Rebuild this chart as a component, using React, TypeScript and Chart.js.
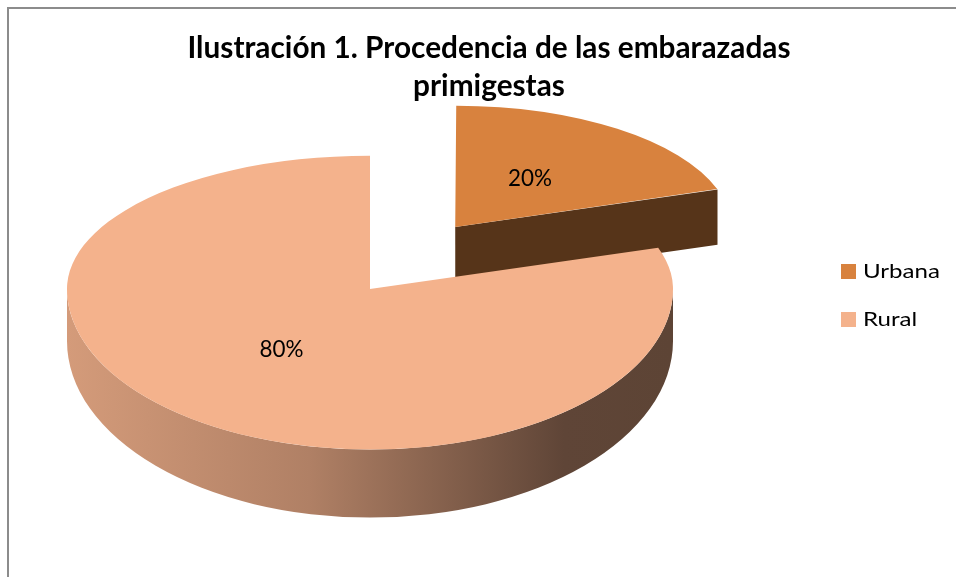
import { useEffect, useRef } from "react";
import { Chart, registerables } from "chart.js";

Chart.register(...registerables);

// ---- data ----
const TITLE_LINES = ["Ilustración 1. Procedencia de las embarazadas", "primigestas"];
const CATEGORIES = ["Urbana", "Rural"];
const VALUES = [20, 80];
const COLORS = ["#d8823e", "#f4b28c"];

// ---- 3D (perspective-ish) look ----
const CY = 297; // centre of the chart area in chart coordinates
const VY0 = 289; // screen y of the main pie centre
const KT = 0.44; // vertical squash for the far half
const KB = 0.53; // vertical squash for the near half
const D0 = 52; // wall depth at the sides
const DX = 16; // extra wall depth at the front
const DF = 62; // depth of the radial cut faces

function rgb(hex: string) {
  const n = parseInt(hex.slice(1), 16);
  return [(n >> 16) & 255, (n >> 8) & 255, n & 255];
}
function shade(hex: string, f: number) {
  const [r, g, b] = rgb(hex);
  return `rgb(${Math.round(r * f)},${Math.round(g * f)},${Math.round(b * f)})`;
}

function info(el: any) {
  const off = (el.options.offset || 0) / 4;
  const mid = (el.startAngle + el.endAngle) / 2;
  const circ = el.endAngle - el.startAngle;
  const fix = 1 - Math.sin(Math.min(Math.PI, circ || 0));
  const ex = el.x + Math.cos(mid) * off;
  const ey = el.y + Math.sin(mid) * off;
  const vy = Math.round(VY0 + 0.53 * (ey - CY));
  const f = 1 + (vy - VY0) / 560;
  return { ex, ey, vx: ex, vy, f, r: el.outerRadius + off * fix, s: el.startAngle, e: el.endAngle, mid };
}

// project a point at angle a and radius rr of an element onto the screen
function proj(g: any, a: number, rr: number) {
  const s = Math.sin(a);
  return [g.vx + g.f * rr * Math.cos(a), g.vy + g.f * rr * s * (s < 0 ? KT : KB)];
}

function fitText(ctx: CanvasRenderingContext2D, text: string, x: number, y: number, sx: number, align: string) {
  const w = ctx.measureText(text).width * sx;
  const left = align === "center" ? x - w / 2 : x;
  ctx.save();
  ctx.translate(left, y);
  ctx.scale(sx, 1);
  ctx.textAlign = "left";
  ctx.textBaseline = "alphabetic";
  ctx.fillText(text, 0, 0);
  ctx.restore();
}

const pie3d = {
  id: "pie3d",
  beforeDraw(chart: any) {
    const ctx = chart.ctx;
    ctx.save();
    ctx.fillStyle = "#8c8c8c";
    ctx.fillRect(7, 7, 949, 2);
    ctx.fillRect(7, 7, 2, 570);
    ctx.restore();
  },
  beforeDatasetsDraw(chart: any) {
    const ctx = chart.ctx;
    const meta = chart.getDatasetMeta(0);
    const colors = chart.data.datasets[0].backgroundColor;
    const W = chart.width;
    const H = chart.height;
    const gs = meta.data.map((el: any) => info(el));

    // radial cut faces
    gs.forEach((g: any, i: number) => {
      const faces: number[] = [];
      if (Math.cos(g.e) > 0.02) faces.push(g.e);
      if (Math.cos(g.s) < -0.02) faces.push(g.s);
      const d = DF * g.f;
      faces.forEach((a) => {
        const [px, py] = proj(g, a, g.r);
        ctx.beginPath();
        ctx.moveTo(g.vx, g.vy);
        ctx.lineTo(px, py);
        ctx.lineTo(px, py + d);
        ctx.lineTo(g.vx, g.vy + d);
        ctx.closePath();
        ctx.fillStyle = shade(colors[i], 0.4);
        ctx.fill();
      });
    });

    // outer walls (near half only)
    gs.forEach((g: any, i: number) => {
      const rx = g.f * g.r;
      const grad = ctx.createLinearGradient(g.vx - rx, 0, g.vx + rx, 0);
      grad.addColorStop(0, shade(colors[i], 0.87));
      grad.addColorStop(0.4, shade(colors[i], 0.72));
      grad.addColorStop(0.82, shade(colors[i], 0.39));
      grad.addColorStop(1, shade(colors[i], 0.38));
      for (const shift of [-2 * Math.PI, 0, 2 * Math.PI]) {
        const a0 = Math.max(g.s, shift);
        const a1 = Math.min(g.e, shift + Math.PI);
        if (a1 - a0 <= 0.001) continue;
        ctx.beginPath();
        ctx.ellipse(g.vx, g.vy, rx, KB * rx, 0, a0 - shift, a1 - shift, false);
        ctx.ellipse(g.vx, g.vy + D0 * g.f, rx, KB * rx + DX * g.f, 0, a1 - shift, a0 - shift, true);
        ctx.closePath();
        ctx.fillStyle = grad;
        ctx.fill();
      }
    });

    // top faces: Chart.js arcs, far half and near half squashed differently
    meta.data.forEach((el: any, i: number) => {
      const g = gs[i];
      [
        [0, g.vy, KT],
        [g.vy, H - g.vy, KB],
      ].forEach(([y0, h, k]) => {
        ctx.save();
        ctx.beginPath();
        ctx.rect(0, y0, W, h);
        ctx.clip();
        ctx.translate(g.vx, g.vy);
        ctx.scale(g.f, k * g.f);
        ctx.translate(-g.ex, -g.ey);
        el.draw(ctx, chart.chartArea);
        ctx.restore();
      });
    });
    return false;
  },
  afterDraw(chart: any) {
    const ctx = chart.ctx;
    const meta = chart.getDatasetMeta(0);
    const data = chart.data.datasets[0].data as number[];
    const colors = chart.data.datasets[0].backgroundColor;
    const total = data.reduce((a, b) => a + b, 0);
    ctx.save();
    ctx.fillStyle = "#000";

    // title
    ctx.font = "bold 30px Lato";
    const tsx = 603 / ctx.measureText(TITLE_LINES[0]).width;
    TITLE_LINES.forEach((t, i) => fitText(ctx, t, 489, 58 + i * 38, tsx, "center"));

    // slice labels
    ctx.font = "24px Lato";
    const lsx = 44 / ctx.measureText("20%").width;
    meta.data.forEach((el: any, i: number) => {
      const g = info(el);
      const [x, y] = proj(g, g.mid, g.r * 0.48);
      const txt = Math.round((data[i] / total) * 100) + "%";
      fitText(ctx, txt, x - 3, y + 6, lsx, "center");
    });

    // legend
    ctx.font = "20px Lato";
    const gsx = 77 / ctx.measureText(CATEGORIES[0]).width;
    chart.data.labels.forEach((lab: string, i: number) => {
      const y = 264 + i * 48;
      ctx.fillStyle = colors[i];
      ctx.fillRect(841, y, 15, 15);
      ctx.fillStyle = "#000";
      fitText(ctx, lab, 863, y + 14, gsx, "left");
    });
    ctx.restore();
  },
};

export default function App() {
  const ref = useRef<HTMLCanvasElement>(null);
  useEffect(() => {
    const canvas = ref.current;
    if (!canvas) return;
    const chart = new Chart(canvas, {
      type: "pie",
      data: {
        labels: CATEGORIES,
        datasets: [
          {
            data: VALUES,
            backgroundColor: COLORS,
            borderWidth: 0,
            offset: [580, 0],
            hoverOffset: 0,
            clip: false,
          } as any,
        ],
      },
      options: {
        responsive: false,
        animation: false,
        devicePixelRatio: 1,
        radius: 303,
        cutout: "0%",
        layout: { padding: { left: 4, right: 220, top: 17, bottom: 0 } },
        plugins: {
          legend: { display: false },
          title: { display: false },
          tooltip: { enabled: false },
        },
        events: [],
      } as any,
      plugins: [pie3d],
    });
    let alive = true;
    const fonts: any = (document as any).fonts;
    if (fonts && fonts.load) {
      Promise.all([fonts.load("bold 30px Lato"), fonts.load("24px Lato"), fonts.load("20px Lato")])
        .then(() => alive && chart.draw())
        .catch(() => {});
    }
    return () => {
      alive = false;
      chart.destroy();
    };
  }, []);
  return (
    <div style={{ position: "absolute", left: 0, top: 0, width: 956, height: 577 }}>
      <canvas ref={ref} width={956} height={577} style={{ display: "block" }} />
    </div>
  );
}
